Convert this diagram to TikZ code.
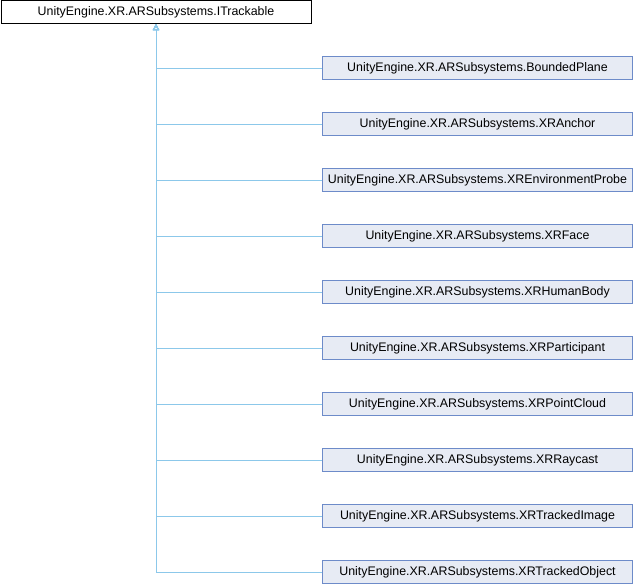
\documentclass[tikz,border=0pt]{standalone}
\usepackage{fontspec}
\setmainfont{Liberation Sans}
\usetikzlibrary{arrows.meta}

\definecolor{edgeblue}{HTML}{8CC8EA}
\definecolor{clsfill}{HTML}{E7EBF4}
\definecolor{clsline}{HTML}{6D8BC9}

\begin{document}
\begin{tikzpicture}[x=1pt,y=-1pt,
	cls/.style={draw=clsline, fill=clsfill, line width=1pt, minimum width=310pt, minimum height=23pt, inner sep=0pt, font=\fontsize{12.4}{14}\selectfont},
	base/.style={cls, draw=black, fill=white},
	edge/.style={draw=edgeblue, line width=1pt, -{Triangle[open,length=6pt,width=6pt]}}]
	\useasboundingbox (0,0) rectangle (634,584);
	\node[base] (itrackable) at (156,12) {UnityEngine.XR.ARSubsystems.ITrackable};
	% derived classes
	\foreach \cname [count=\i] in {BoundedPlane,XRAnchor,XREnvironmentProbe,XRFace,XRHumanBody,XRParticipant,XRPointCloud,XRRaycast,XRTrackedImage,XRTrackedObject} {
		\node[cls] (\cname) at (477.5,12+56*\i) {UnityEngine.XR.ARSubsystems.\cname};
		\draw[edge] (\cname.west) -| (itrackable.south);
	}
\end{tikzpicture}
\end{document}
